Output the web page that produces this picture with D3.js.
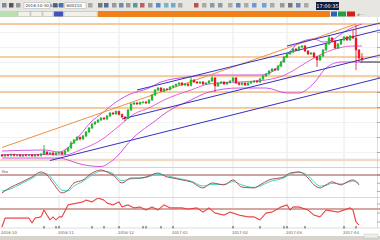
<!DOCTYPE html>
<html>
<head>
<meta charset="utf-8">
<script src="https://cdn.jsdelivr.net/npm/d3@7"></script>
<style>
html, body { margin: 0; padding: 0; background: #fff; overflow: hidden; }
svg { display: block; font-family: "DejaVu Sans", sans-serif; }
</style>
</head>
<body>
<svg id="chart" width="380" height="240"></svg>
<script>
// Daily bars, price units
const OPEN = [
  4.5, 4.4, 4.5, 4.45, 4.55, 4.45, 4.5, 4.4, 4.5, 4.45,
  4.5, 4.4, 4.5, 4.45, 4.6, 4.8, 4.6, 4.7, 4.55, 4.7,
  4.75, 4.6, 4.9, 5.2, 5.7, 6.0, 6.25, 6.1, 6.4, 6.8,
  7.2, 7.6, 7.8, 8.0, 8.2, 8.1, 8.4, 8.7, 8.6, 8.85,
  8.55, 8.3, 8.15, 9.0, 9.6, 9.7, 9.6, 9.75, 9.8, 9.7,
  10.0, 10.5, 11.0, 11.2, 10.9, 11.1, 11.05, 11.3, 11.4, 11.55,
  11.7, 11.5, 11.6, 11.45, 12.0, 11.8, 11.7, 11.8, 11.6, 11.7,
  11.9, 12.2, 11.4, 11.7, 11.8, 11.6, 11.75, 11.9, 12.2, 11.7,
  11.55, 11.7, 11.5, 11.7, 11.8, 11.9, 11.8, 12.1, 12.4, 12.6,
  12.9, 13.1, 13.0, 13.4, 13.8, 14.3, 14.6, 14.8, 15.1, 15.0,
  15.3, 15.4, 14.9, 14.6, 14.7, 14.3, 14.0, 14.4, 15.0, 15.6,
  16.2, 15.9, 15.2, 15.6, 16.0, 16.3, 16.0, 16.4, 16.2, 15.0,
  14.2
];
const CLOSE = [
  4.4, 4.5, 4.45, 4.55, 4.45, 4.5, 4.4, 4.5, 4.45, 4.5,
  4.4, 4.5, 4.45, 4.6, 4.9, 4.6, 4.7, 4.55, 4.7, 4.75,
  4.6, 4.9, 5.2, 5.7, 6.0, 6.25, 6.1, 6.4, 6.8, 7.2,
  7.6, 7.8, 8.0, 8.2, 8.1, 8.4, 8.7, 8.6, 8.85, 8.55,
  8.3, 8.15, 9.0, 9.6, 9.7, 9.6, 9.75, 9.8, 9.7, 10.0,
  10.5, 11.0, 11.2, 10.9, 11.1, 11.05, 11.3, 11.4, 11.55, 11.7,
  11.5, 11.6, 11.45, 12.0, 11.8, 11.7, 11.8, 11.6, 11.7, 11.9,
  12.2, 11.4, 11.7, 11.8, 11.6, 11.75, 11.9, 12.2, 11.7, 11.55,
  11.7, 11.5, 11.7, 11.8, 11.9, 11.8, 12.1, 12.4, 12.6, 12.9,
  13.1, 13.0, 13.4, 13.8, 14.3, 14.6, 14.8, 15.1, 15.0, 15.3,
  15.4, 14.9, 14.6, 14.7, 14.3, 14.0, 14.4, 15.0, 15.6, 16.2,
  15.9, 15.2, 15.6, 16.0, 16.3, 16.0, 16.4, 16.2, 15.0, 14.2,
  14.0
];
const HIGH = [
  4.6, 4.6, 4.6, 4.65, 4.65, 4.6, 4.6, 4.6, 4.6, 4.6,
  4.6, 4.6, 4.6, 4.7, 5.5, 4.9, 4.8, 4.8, 4.8, 4.85,
  4.85, 5.0, 5.3, 5.9, 6.1, 6.4, 6.35, 6.5, 6.9, 7.3,
  7.7, 7.9, 8.1, 8.3, 8.3, 8.5, 8.8, 8.8, 8.95, 8.95,
  8.65, 8.4, 9.1, 9.7, 9.8, 9.8, 9.85, 9.9, 9.9, 10.1,
  10.6, 11.1, 11.3, 11.3, 11.2, 11.2, 11.4, 11.5, 11.65, 11.8,
  11.8, 11.7, 11.7, 12.4, 12.1, 11.9, 11.9, 11.9, 11.8, 12.0,
  12.4, 12.3, 11.8, 11.9, 11.9, 11.85, 12.0, 12.3, 12.3, 11.8,
  11.8, 11.8, 11.8, 11.9, 12.0, 12.0, 12.2, 12.5, 12.7, 13.0,
  13.2, 13.2, 13.5, 13.9, 14.4, 14.7, 14.9, 15.2, 15.2, 15.4,
  15.5, 15.5, 15.0, 14.8, 14.8, 14.4, 14.5, 15.1, 15.7, 16.5,
  16.3, 16.0, 15.7, 16.1, 16.4, 16.4, 16.5, 17.0, 17.5, 15.1,
  14.7
];
const LOW = [
  4.3, 4.3, 4.35, 4.35, 4.35, 4.35, 4.3, 4.3, 4.35, 4.35,
  4.3, 4.3, 4.35, 4.35, 4.5, 4.5, 4.5, 4.45, 4.45, 4.6,
  4.5, 4.5, 4.8, 5.1, 5.6, 5.9, 5.95, 6.0, 6.3, 6.7,
  7.1, 7.5, 7.7, 7.9, 8.0, 8.0, 8.3, 8.5, 8.5, 8.45,
  8.2, 7.9, 8.1, 8.9, 9.5, 9.5, 9.5, 9.65, 9.6, 9.6,
  9.9, 10.4, 10.9, 10.8, 10.8, 10.95, 10.95, 11.2, 11.3, 11.45,
  11.4, 11.4, 11.35, 11.35, 11.7, 11.6, 11.6, 11.5, 11.5, 11.6,
  11.8, 10.8, 11.3, 11.6, 11.5, 11.5, 11.65, 11.8, 11.6, 11.45,
  11.45, 11.4, 11.4, 11.6, 11.7, 11.7, 11.7, 12.0, 12.3, 12.5,
  12.8, 12.9, 12.9, 13.3, 13.7, 14.2, 14.5, 14.7, 14.9, 14.9,
  15.2, 14.8, 14.5, 14.5, 14.2, 13.3, 13.9, 14.3, 14.9, 15.5,
  15.8, 15.1, 15.1, 15.5, 15.9, 15.9, 15.9, 16.1, 13.0, 13.8,
  13.9
];

// Bollinger bands [bar, price]
const bbUpper = [[0, 4.9], [14, 5.0], [19, 4.8], [23, 5.5], [26, 6.5], [30, 7.9], [33, 8.6],
  [38, 9.8], [42, 10.5], [49, 11.2], [53, 11.8], [62, 12.3], [69, 12.5], [79, 12.5], [86, 12.5],
  [91, 13.0], [95, 14.5], [99, 15.7], [104, 16.1], [107, 15.8], [110, 16.0], [114, 16.8],
  [118, 17.4], [120, 17.6]];
const bbMiddle = [[0, 4.55], [14, 4.55], [21, 4.5], [26, 5.0], [33, 6.0], [39, 7.4], [44, 8.6],
  [49, 9.2], [54, 10.0], [63, 11.0], [69, 11.6], [79, 11.8], [88, 12.0], [95, 12.6], [99, 13.3],
  [104, 14.2], [110, 15.0], [117, 15.4], [120, 15.4]];
const bbLower = [[0, 4.2], [14, 4.2], [19, 4.2], [22, 4.0], [26, 3.6], [33, 3.35], [37, 4.0],
  [44, 6.3], [51, 7.9], [55, 8.8], [63, 10.0], [69, 10.8], [79, 11.2], [88, 11.2], [95, 10.7],
  [99, 10.7], [104, 11.7], [108, 13.2], [113, 13.8], [120, 13.8]];

// Horizontal price levels
const levels = [17.6, 14.3, 12.4, 10.8, 9.2, 4.0];
// Channel lines, two end points [bar, price]
const channels = [
  [[95, 15.4], [126, 17.7]],
  [[45, 11.0], [126, 17.0]],
  [[40, 8.1], [126, 14.5]],
  [[16, 3.95], [126, 12.2]]
];
const fanLine = [[0, 5.25], [118, 17.6]];
const lastPriceLine = [[119.5, 13.8], [126, 13.8]];

// Stochastic K / D [bar, value]
const stochK = [[0, 15], [3, 36], [6, 51], [8, 62], [10, 73], [13, 91], [15, 80], [17, 51], [20, 15],
  [22, 25], [24, 51], [27, 62], [30, 87], [33, 98], [35, 91], [37, 80], [40, 51], [43, 69], [46, 69],
  [48, 73], [52, 87], [55, 73], [57, 69], [60, 62], [63, 55], [67, 33], [70, 51], [74, 44], [77, 62],
  [80, 36], [84, 33], [86, 44], [89, 62], [94, 73], [96, 87], [99, 91], [102, 69], [104, 44],
  [106, 33], [108, 44], [110, 55], [113, 44], [115, 55], [117, 62], [119, 44]];
const stochD = [[0, 22], [3, 30], [6, 46], [8, 57], [10, 68], [13, 85], [15, 84], [17, 62], [20, 25],
  [22, 22], [24, 40], [27, 57], [30, 80], [33, 94], [35, 93], [37, 85], [40, 60], [43, 66], [46, 68],
  [48, 71], [52, 83], [55, 78], [57, 72], [60, 65], [63, 58], [67, 40], [70, 46], [74, 46], [77, 56],
  [80, 44], [84, 35], [86, 40], [89, 55], [94, 70], [96, 82], [99, 90], [102, 78], [104, 55],
  [106, 40], [108, 42], [110, 50], [113, 47], [115, 52], [117, 58], [119, 50]];
const stochLevel = 80;

// Lower indicator [bar, value]
const oscValues = [[0, 3], [1, 33], [6, 33], [9, 33], [10, 17], [11, 33], [13, 37], [14, 60], [15, 43],
  [16, 27], [17, 37], [18, 27], [19, 37], [20, 37], [22, 77], [25, 83], [27, 87], [28, 93], [30, 87],
  [32, 100], [34, 93], [35, 83], [37, 77], [39, 87], [40, 70], [42, 77], [44, 67], [46, 70], [48, 60],
  [50, 70], [52, 60], [54, 77], [56, 67], [58, 67], [60, 67], [62, 63], [65, 67], [67, 53], [69, 67],
  [71, 50], [74, 43], [76, 53], [79, 43], [82, 37], [84, 37], [86, 27], [88, 50], [90, 53], [93, 70],
  [95, 77], [96, 60], [97, 70], [99, 70], [102, 60], [104, 43], [106, 37], [108, 60], [112, 53],
  [114, 60], [116, 67], [117, 60], [118, 20], [119, 10]];
const oscLevel = 63;

// Time axis
const monthBars = [0, 19, 39, 57, 77, 95, 114];
const monthLabels = ['2016-10', '2016-11', '2016-12', '2017-01', '2017-02', '2017-03', '2017-04'];
const markerBars = [14, 18, 19, 30, 34, 39, 47, 48, 53, 57, 77, 86, 94, 95, 101, 114, 118];
const priceTicks = [4.75, 6.25, 7.75, 9.25, 10.75, 12.25, 13.75, 15.25, 16.75];

const svg = d3.select('#chart');

// panel bounds
const main = { top: 17, bottom: 167 };
const sto = { top: 168, bottom: 197 };
const osc = { top: 198, bottom: 228 };
const plotRight = 377;

const x = d3.scaleLinear().domain([0, 126]).range([2, 380]);
const y = d3.scaleLinear().domain([3.3, 18.3]).range([main.bottom, main.top]);
const yS = d3.scaleLinear().domain([0, 100]).range([sto.bottom, 169.5]);
const yO = d3.scaleLinear().domain([0, 100]).range([osc.bottom, osc.top]);

svg.append('rect').attr('width', 380).attr('height', 240).attr('fill', '#fff');

// toolbar
const bar = svg.append('g');
bar.append('rect').attr('width', 380).attr('height', 11).attr('fill', '#e8e6e0');
bar.append('rect').attr('y', 11).attr('width', 380).attr('height', 6).attr('fill', '#dcdad2');
bar.append('rect').attr('x', 98).attr('y', 11).attr('width', 282).attr('height', 6).attr('fill', '#f08018');
const iconX = [2, 9, 16, 53, 59, 88, 98, 104, 112, 119, 126, 133, 140, 148, 156, 164, 171, 178,
  194, 202, 210, 218, 228, 236, 244, 252, 262, 270, 280, 288, 296, 304];
const iconColor = ['#7a8aa0', '#555', '#999', '#5070b0', '#5070b0', '#aaa', '#777', '#5a6a9a',
  '#999', '#6a8ab8', '#999', '#5a9a9a', '#c06060', '#999', '#5a8acc', '#70b8c8', '#70a8d0', '#aaa',
  '#c05050', '#aaa', '#8a98a8', '#8a98a8', '#aaa', '#6a88b8', '#aaa', '#6a9ad0', '#6aa0e0', '#aaa',
  '#999', '#777', '#6a88b8', '#aaa'];
bar.selectAll('rect.icon').data(iconX).join('rect')
  .attr('class', 'icon')
  .attr('x', d => d).attr('y', 3).attr('width', 4.5).attr('height', 4.5)
  .attr('fill', (d, i) => iconColor[i]);
bar.append('rect').attr('x', 24).attr('y', 2.5).attr('width', 26).attr('height', 6)
  .attr('fill', '#fff').attr('stroke', '#999').attr('stroke-width', 0.4);
bar.append('text').attr('x', 25.5).attr('y', 7.3).attr('font-size', 4).attr('fill', '#333')
  .text('2016-10-30 0:12');
bar.append('rect').attr('x', 65).attr('y', 2.5).attr('width', 21).attr('height', 6)
  .attr('fill', '#fff').attr('stroke', '#999').attr('stroke-width', 0.4);
bar.append('text').attr('x', 66.5).attr('y', 7.3).attr('font-size', 4).attr('fill', '#333')
  .text('600210');
bar.append('rect').attr('x', 316).attr('y', 2).attr('width', 23).attr('height', 8).attr('fill', '#0c1c3c');
bar.append('text').attr('x', 327.5).attr('y', 8).attr('font-size', 5).attr('fill', '#fff')
  .attr('text-anchor', 'middle').text('17:00:35');
bar.append('rect').attr('x', 330).attr('y', 11).attr('width', 50).attr('height', 6).attr('fill', '#e8e6e0');
bar.append('rect').attr('x', 331).attr('y', 11.5).attr('width', 6).attr('height', 5).attr('fill', '#3060c0');
bar.append('rect').attr('x', 338).attr('y', 11.5).attr('width', 8).attr('height', 5).attr('fill', '#20a040');
bar.append('rect').attr('x', 347).attr('y', 11.5).attr('width', 8).attr('height', 5).attr('fill', '#d02020');
bar.append('text').attr('x', 357).attr('y', 15.8).attr('font-size', 3.6).attr('fill', '#666').text('#\u00b7\u00b7\u00b7\u00b7');
// left tabs
const tabX = [0, 18, 31, 43, 54, 64];
const tabW = [17, 12, 11, 10, 9, 33];
bar.selectAll('rect.tab').data(tabX).join('rect')
  .attr('class', 'tab')
  .attr('x', d => d).attr('y', 11.5).attr('width', (d, i) => tabW[i]).attr('height', 5)
  .attr('fill', (d, i) => (i === 4 ? '#4050c0' : '#f2f0ea')).attr('stroke', '#999').attr('stroke-width', 0.3);
bar.append('rect').attr('x', 0).attr('y', 11.5).attr('width', 17).attr('height', 5).attr('fill', '#b8e0b0');

// panels clip
const defs = svg.append('defs');
[['cMain', main], ['cSto', sto], ['cOsc', osc]].forEach(([id, p]) => {
  defs.append('clipPath').attr('id', id).append('rect')
    .attr('x', 0).attr('y', p.top).attr('width', 380).attr('height', p.bottom - p.top);
});

// grids
const grid = svg.append('g');
grid.selectAll('line.v').data(monthBars.slice(1)).join('line')
  .attr('x1', d => x(d)).attr('x2', d => x(d))
  .attr('y1', main.top).attr('y2', osc.bottom)
  .attr('stroke', '#e2e2e2').attr('stroke-width', 0.8);
grid.selectAll('line.h').data(priceTicks).join('line')
  .attr('x1', 0).attr('x2', plotRight)
  .attr('y1', d => y(d)).attr('y2', d => y(d))
  .attr('stroke', '#efefef').attr('stroke-width', 0.8);

// horizontal levels
const lvl = svg.append('g').attr('clip-path', 'url(#cMain)');
lvl.selectAll('line').data(levels).join('line')
  .attr('x1', 0).attr('x2', 380)
  .attr('y1', d => y(d)).attr('y2', d => y(d))
  .attr('stroke', (d, i) => (i === 0 ? '#f8c8a0' : i === levels.length - 1 ? '#f0dcc6' : '#f0a050'))
  .attr('stroke-width', (d, i) => (i === 0 ? 2 : i === levels.length - 1 ? 2.6 : 1.1));

// Bollinger bands
const band = d3.line().x(d => x(d[0])).y(d => y(d[1])).curve(d3.curveMonotoneX);
const bb = svg.append('g').attr('clip-path', 'url(#cMain)').attr('fill', 'none');
[bbUpper, bbMiddle, bbLower].forEach((s, i) => {
  bb.append('path').attr('d', band(s))
    .attr('stroke', i === 1 ? '#e050c8' : '#cc44dd').attr('stroke-width', 0.9);
});

// straight lines
const seg = d3.line().x(d => x(d[0])).y(d => y(d[1]));
const lines = svg.append('g').attr('clip-path', 'url(#cMain)').attr('fill', 'none');
lines.append('path').attr('d', seg(fanLine)).attr('stroke', '#f09040').attr('stroke-width', 1);
lines.selectAll('path.ch').data(channels).join('path')
  .attr('class', 'ch').attr('d', seg)
  .attr('stroke', '#3030c0').attr('stroke-width', 1);
lines.append('path').attr('d', seg(lastPriceLine)).attr('stroke', '#1a1a40').attr('stroke-width', 1);

// candles
const bars = d3.range(CLOSE.length);
const up = i => CLOSE[i] >= OPEN[i];
const candles = svg.append('g').attr('clip-path', 'url(#cMain)');
candles.selectAll('line').data(bars).join('line')
  .attr('x1', i => x(i)).attr('x2', i => x(i))
  .attr('y1', i => y(HIGH[i])).attr('y2', i => y(LOW[i]))
  .attr('stroke', i => (up(i) ? '#10a020' : '#e01020')).attr('stroke-width', 0.8);
candles.selectAll('rect').data(bars).join('rect')
  .attr('x', i => x(i) - 1).attr('width', 2)
  .attr('y', i => y(Math.max(OPEN[i], CLOSE[i])))
  .attr('height', i => Math.max(0.8, Math.abs(y(OPEN[i]) - y(CLOSE[i]))))
  .attr('fill', i => (up(i) ? '#22cc33' : '#ff1a2a'))
  .attr('stroke', i => (up(i) ? '#0a8a1a' : '#c00010')).attr('stroke-width', 0.3);

// panel separators
svg.append('line').attr('x1', 0).attr('x2', 380).attr('y1', 167.5).attr('y2', 167.5)
  .attr('stroke', '#a8d8c8').attr('stroke-width', 0.8);
svg.append('line').attr('x1', 0).attr('x2', 380).attr('y1', 197.5).attr('y2', 197.5)
  .attr('stroke', '#d0d0d0').attr('stroke-width', 0.8);
svg.append('line').attr('x1', 0).attr('x2', 380).attr('y1', 228).attr('y2', 228)
  .attr('stroke', '#c8c8c8').attr('stroke-width', 0.6);

// stochastic panel
const sLine = d3.line().x(d => x(d[0])).y(d => yS(d[1])).curve(d3.curveMonotoneX);
const sp = svg.append('g').attr('clip-path', 'url(#cSto)').attr('fill', 'none');
sp.append('line').attr('x1', 0).attr('x2', 380)
  .attr('y1', yS(stochLevel)).attr('y2', yS(stochLevel))
  .attr('stroke', '#a04848').attr('stroke-width', 1.2);
sp.append('path').attr('d', sLine(stochD)).attr('stroke', '#40d8c8').attr('stroke-width', 1);
sp.append('path').attr('d', sLine(stochK)).attr('stroke', '#a04040').attr('stroke-width', 0.9);
svg.append('text').attr('x', 1.5).attr('y', 173).attr('font-size', 3.8).attr('fill', '#444').text('Sto');

// lower indicator panel
const oLine = d3.line().x(d => x(d[0])).y(d => yO(d[1]));
const op = svg.append('g').attr('clip-path', 'url(#cOsc)').attr('fill', 'none');
op.append('line').attr('x1', 0).attr('x2', 380)
  .attr('y1', yO(oscLevel)).attr('y2', yO(oscLevel))
  .attr('stroke', '#d4a8a0').attr('stroke-width', 2);
op.append('path').attr('d', oLine(oscValues)).attr('stroke', '#ff9090').attr('stroke-width', 1.4).attr('opacity', 0.6);
op.append('path').attr('d', oLine(oscValues)).attr('stroke', '#e02020').attr('stroke-width', 0.8);

// right axis ticks
const axisG = svg.append('g');
axisG.append('line').attr('x1', plotRight + 0.5).attr('x2', plotRight + 0.5)
  .attr('y1', main.top).attr('y2', osc.bottom).attr('stroke', '#bbb').attr('stroke-width', 0.5);
axisG.selectAll('line.t').data(priceTicks).join('line')
  .attr('x1', plotRight).attr('x2', 380).attr('y1', d => y(d)).attr('y2', d => y(d))
  .attr('stroke', '#666').attr('stroke-width', 0.5);
axisG.selectAll('line.s').data([20, 50, 80]).join('line')
  .attr('x1', plotRight).attr('x2', 380).attr('y1', d => yS(d)).attr('y2', d => yS(d))
  .attr('stroke', '#666').attr('stroke-width', 0.5);
axisG.selectAll('line.o').data([20, 50, 80]).join('line')
  .attr('x1', plotRight).attr('x2', 380).attr('y1', d => yO(d)).attr('y2', d => yO(d))
  .attr('stroke', '#666').attr('stroke-width', 0.5);

// time axis
const xa = svg.append('g');
xa.selectAll('line.m').data(markerBars).join('line')
  .attr('x1', d => x(d)).attr('x2', d => x(d)).attr('y1', 226).attr('y2', 228.5)
  .attr('stroke', '#222').attr('stroke-width', 0.8);
xa.selectAll('text').data(monthBars).join('text')
  .attr('x', d => x(d) - 1).attr('y', 233.5)
  .attr('font-size', 3.8).attr('fill', '#555')
  .text((d, i) => monthLabels[i]);

// status bar
svg.append('rect').attr('y', 236).attr('width', 380).attr('height', 4).attr('fill', '#d6d4cc');
svg.append('rect').attr('x', 364).attr('y', 234).attr('width', 14).attr('height', 4)
  .attr('fill', '#eee').attr('stroke', '#aaa').attr('stroke-width', 0.3);
</script>
</body>
</html>
